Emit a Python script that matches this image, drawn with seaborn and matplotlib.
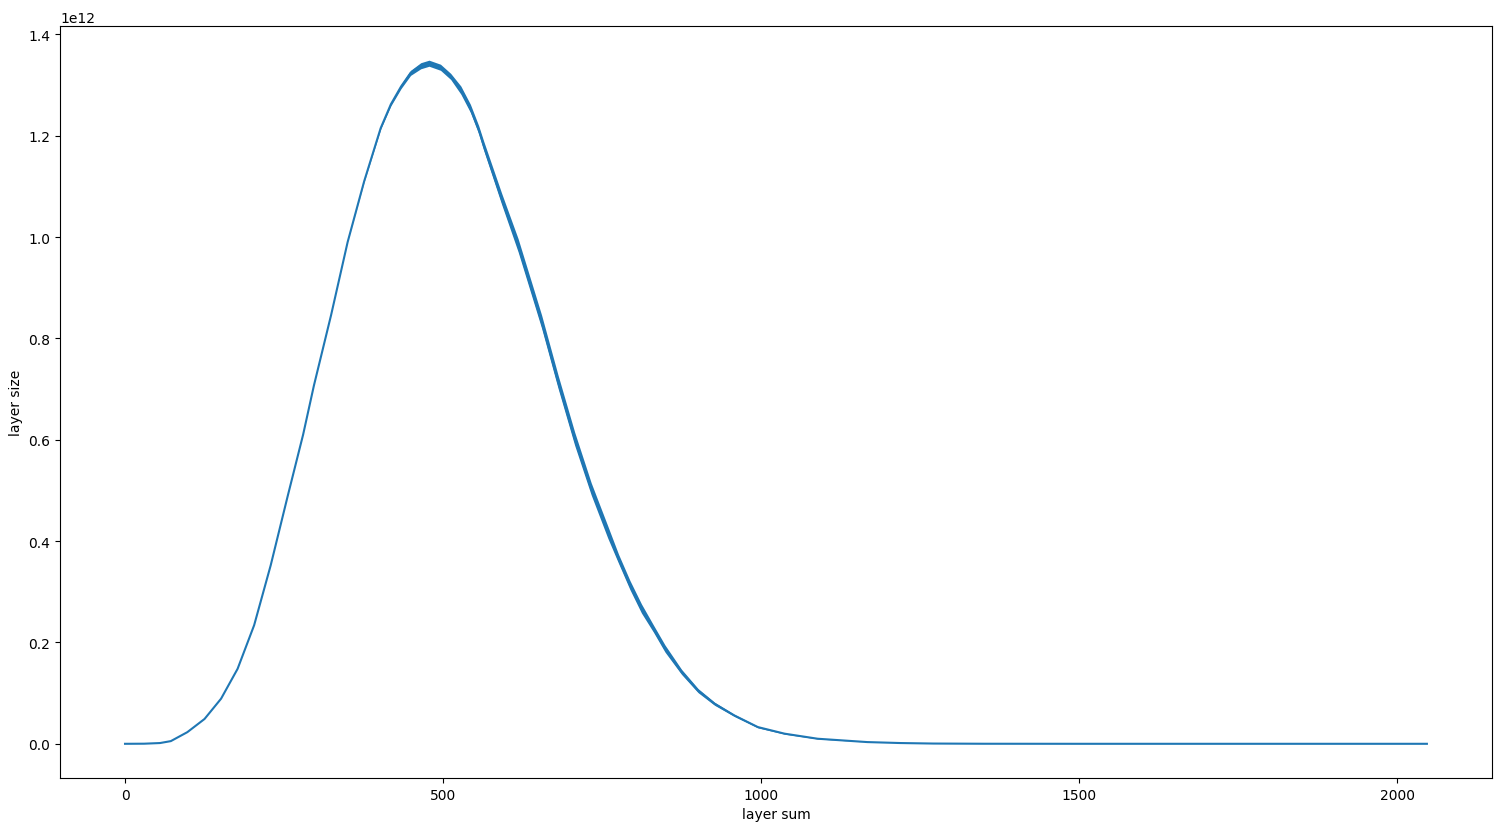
import numpy as np
import pandas as pd
import seaborn as sns
from matplotlib import pyplot as plt


# values, y in units of 1e12
layer_sum = [0, 30, 55, 72, 98, 125, 151, 177, 203, 229,
             256, 280, 297, 324, 350, 376, 402, 418, 434, 449,
             465, 478, 496, 512, 528, 543, 556, 564, 592, 618,
             644, 655, 681, 707, 733, 759, 776, 794, 812, 831,
             849, 875, 901, 927, 958, 995, 1037, 1089, 1167, 1219,
             1271, 1350, 1500, 2047]
layer_size = [0, 0.0002, 0.0015, 0.0053, 0.023, 0.049, 0.089, 0.148, 0.234, 0.352,
              0.490, 0.61, 0.707, 0.846, 0.990, 1.110, 1.215, 1.262, 1.297, 1.324,
              1.338, 1.343, 1.335, 1.317, 1.290, 1.254, 1.212, 1.180, 1.076, 0.984,
              0.878, 0.833, 0.714, 0.602, 0.503, 0.418, 0.365, 0.313, 0.267, 0.227,
              0.188, 0.142, 0.105, 0.079, 0.056, 0.033, 0.020, 0.010, 0.0034, 0.0015,
              0.0005, 0.0001, 0, 0]
# half height of the jittery band around the curve (odd/even wobble)
wobble = [0, 0, 0, 0, 0, 0, 0, 0, 0, 0,
          0, 0, 0, 0, 0, 0.001, 0.002, 0.003, 0.004, 0.005,
          0.006, 0.006, 0.006, 0.006, 0.008, 0.008, 0.008, 0.009, 0.011, 0.013,
          0.013, 0.013, 0.013, 0.013, 0.012, 0.012, 0.009, 0.009, 0.009, 0.007,
          0.007, 0.005, 0.004, 0.003, 0.002, 0.0015, 0.001, 0.0005, 0, 0,
          0, 0, 0, 0]
SCALE = 1e12

data = pd.DataFrame({'layer sum': layer_sum,
                     'layer size': np.array(layer_size) * SCALE,
                     'wobble': np.array(wobble) * SCALE})

fig = plt.figure(figsize=(15.06, 8.28), dpi=100)
ax = fig.add_axes([0.0398, 0.0592, 0.9509, 0.9082])

color = '#1f77b4'
ax.fill_between(data['layer sum'], data['layer size'] - data['wobble'],
                data['layer size'] + data['wobble'], color=color, lw=0)
sns.lineplot(data=data, x='layer sum', y='layer size', ax=ax, color=color, lw=1.5)

ax.set_xlabel('layer sum')
ax.set_ylabel('layer size')

fig.savefig('out.png', dpi=100)
